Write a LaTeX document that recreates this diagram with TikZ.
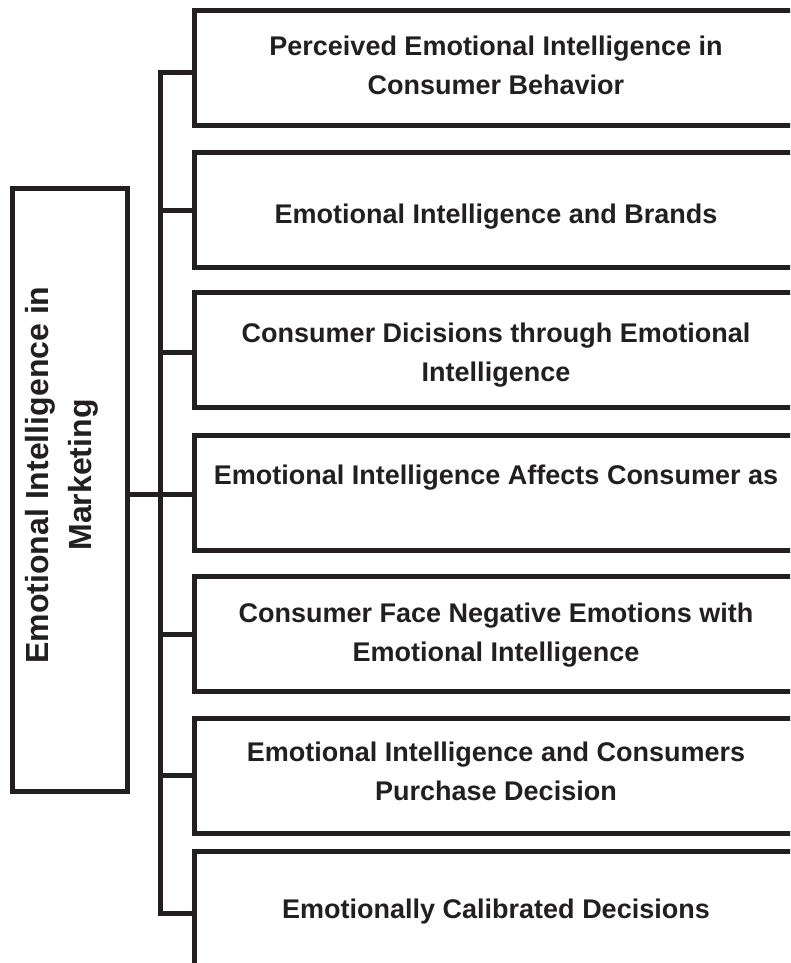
\documentclass[tikz,border=0pt]{standalone}
\usepackage{fontspec}
\setmainfont{Liberation Sans}
\definecolor{ink}{HTML}{231F20}
\begin{document}
\begin{tikzpicture}[x=1pt,y=-1pt,
  line width=5pt, draw=ink, line join=miter,
  topic/.style={draw=ink, line width=5pt, rectangle, outer sep=0pt, inner sep=0pt,
    minimum width=603pt, minimum height=115pt},
  topiclabel/.style={align=center, text=ink, inner sep=0pt,
    font=\bfseries\fontsize{27}{38.5}\selectfont},
  root/.style={draw=ink, line width=5pt, rectangle, outer sep=0pt, inner sep=0pt,
    minimum width=115.5pt, minimum height=603pt},
  rootlabel/.style={rotate=90, align=center, text=ink, inner sep=0pt,
    font=\bfseries\fontsize{32}{43}\selectfont}
]
\useasboundingbox (0,0) rectangle (790,963);
\clip (0,0) rectangle (790,963);

% central topic
\node[root] (root) at (69.75,490) {};
\node[rootlabel] (rootText) at (62,475) {Emotional Intelligence in\\Marketing};

% sub-topic frames
\node[topic] (b1) at (496,68)    {};
\node[topic] (b2) at (496,210)   {};
\node[topic] (b3) at (496,350)   {};
\node[topic] (b4) at (496,492.5) {};
\node[topic] (b5) at (496,634)   {};
\node[topic] (b6) at (496,775.5) {};
\node[topic] (b7) at (496,908.5) {};

% sub-topic titles
\node[topiclabel] (t1) at (496,65.4)  {Perceived Emotional Intelligence in\\Consumer Behavior};
\node[topiclabel] (t2) at (496,216.3) {Emotional Intelligence and Brands};
\node[topiclabel] (t3) at (496,355)   {Consumer Dicisions through Emotional\\Intelligence};
\node[topiclabel] (t4) at (496,494.4) {Emotional Intelligence Affects Consumer as\\\mbox{}};
\node[topiclabel] (t5) at (496,635)   {Consumer Face Negative Emotions with\\Emotional Intelligence};
\node[topiclabel] (t6) at (496,771.1) {Emotional Intelligence and Consumers\\Purchase Decision};
\node[topiclabel] (t7) at (496,911.3) {Emotionally Calibrated Decisions};

% trunk
\coordinate (trunkBottom) at (160.5,913);
\draw ([yshift=-4.5pt]b1.west) -| (trunkBottom) -- ([yshift=-4.5pt]b7.west);

% branches
\draw (b2.west) -- (b2.west -| trunkBottom);
\draw ([yshift=-2.5pt]b3.west) -- ([yshift=-2.5pt]b3.west -| trunkBottom);
\draw ([yshift=-2pt]b4.west) -- ([yshift=-2pt]b4.west -| root.east);
\draw (b5.west) -- (b5.west -| trunkBottom);
\draw (b6.west) -- (b6.west -| trunkBottom);
\end{tikzpicture}
\end{document}
